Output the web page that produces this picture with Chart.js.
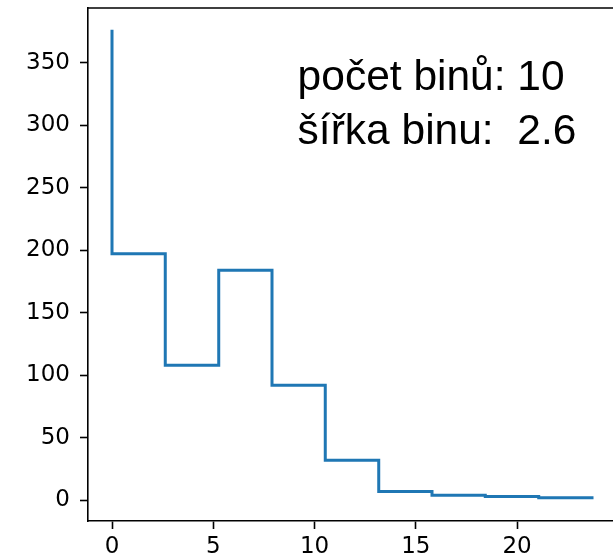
<!DOCTYPE html>
<html>
<head>
<meta charset="utf-8">
<script src="https://cdn.jsdelivr.net/npm/chart.js@4"></script>
<style>
  html, body { margin: 0; padding: 0; background: #fff; overflow: hidden; }
  #wrap { width: 613px; height: 558px; overflow: hidden; }
</style>
</head>
<body>
<div id="wrap"><canvas id="myChart" width="618" height="558"></canvas></div>
<script>
// levy okraj binu a pocty (step, where='pre')
const binStarts = [0, 2.63, 5.27, 7.9, 10.53, 13.17, 15.8, 18.43, 21.07, 23.7]
const counts = [375, 197, 108, 184, 92, 32, 7, 4, 3, 2]
const xTicks = [0, 5, 10, 15, 20]
const yTicks = [0, 50, 100, 150, 200, 250, 300, 350]
const infoLines = ['počet binů: 10', 'šířka binu:  2.6']

// matplotlib-like 5% margins
const xMin = Math.min(...binStarts), xMax = Math.max(...binStarts)
const yMin = Math.min(...counts), yMax = Math.max(...counts)
const xPad = (xMax - xMin) * 0.05, yPad = (yMax - yMin) * 0.05

const points = binStarts.map((x, i) => ({ x: x, y: counts[i] }))

// ramecek nahore a vpravo
const frame = {
    id: 'frame',
    afterDraw(chart) {
        const a = chart.chartArea, c = chart.ctx
        c.save()
        c.strokeStyle = '#000'
        c.lineWidth = 1.6
        c.beginPath()
        c.moveTo(a.left, a.top)
        c.lineTo(a.right, a.top)
        c.lineTo(a.right, a.bottom)
        c.stroke()
        c.restore()
    }
}

// text v grafu (axes coords)
const info = {
    id: 'info',
    afterDraw(chart) {
        const a = chart.chartArea, c = chart.ctx
        c.save()
        c.fillStyle = '#000'
        c.font = '42.5px "Liberation Sans", Arial, sans-serif'
        c.textAlign = 'left'
        c.textBaseline = 'alphabetic'
        const x = a.left + 0.397 * (a.right - a.left)
        infoLines.forEach((t, i) => {
            c.fillText(t, x, a.top + 82 + i * 54)
        })
        c.restore()
    }
}

const tickFont = { family: '"DejaVu Sans", sans-serif', size: 23 }

var ctx = document.getElementById('myChart');
var myChart = new Chart(ctx, {
    type: 'line',
    data: {
        datasets: [{
            data: points,
            borderColor: '#1f77b4',
            borderWidth: 3,
            stepped: 'after',
            pointRadius: 0,
            fill: false,
            borderCapStyle: 'square',
            borderJoinStyle: 'miter'
        }]
    },
    options: {
        responsive: false,
        animation: false,
        layout: { padding: { top: 8, right: 2, left: 0, bottom: 0 } },
        plugins: {
            legend: { display: false },
            tooltip: { enabled: false }
        },
        scales: {
            x: {
                type: 'linear',
                min: xMin - xPad,
                max: xMax + xPad,
                afterBuildTicks: (s) => { s.ticks = xTicks.map(v => ({ value: v })) },
                afterFit: (s) => { s.height = 37; s.paddingLeft = 0; s.paddingRight = 0 },
                grid: { display: true, drawOnChartArea: false, drawTicks: true, tickLength: 8, tickColor: '#000', tickWidth: 1.6 },
                border: { display: true, color: '#000', width: 1.6 },
                ticks: { color: '#000', font: tickFont, padding: 4, maxRotation: 0, autoSkip: false }
            },
            y: {
                type: 'linear',
                min: yMin - yPad,
                max: yMax + yPad,
                afterBuildTicks: (s) => { s.ticks = yTicks.map(v => ({ value: v })) },
                afterFit: (s) => { s.width = 88; s.paddingTop = 0; s.paddingBottom = 0 },
                grid: { display: true, drawOnChartArea: false, drawTicks: true, tickLength: 8, tickColor: '#000', tickWidth: 1.6 },
                border: { display: true, color: '#000', width: 1.6 },
                ticks: { color: '#000', font: tickFont, padding: 10, autoSkip: false }
            }
        }
    },
    plugins: [frame, info]
});
</script>
</body>
</html>
